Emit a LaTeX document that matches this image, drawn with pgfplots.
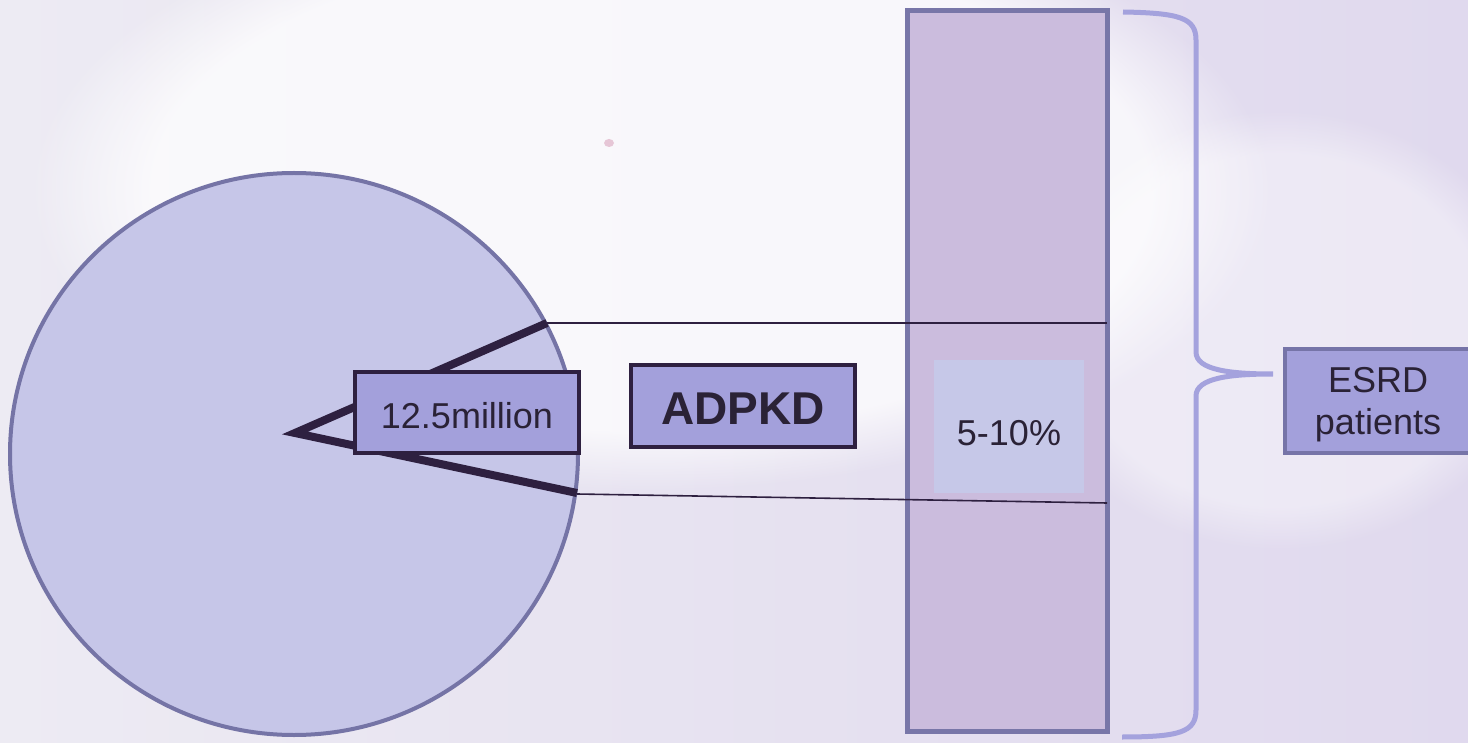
\documentclass[border=0pt]{standalone}
\usepackage{fontspec}
\setmainfont{Liberation Sans}
\usepackage{pgfplots}
\pgfplotsset{compat=1.18}
\usetikzlibrary{fadings}
\definecolor{bgl}{HTML}{EDEBF3}
\definecolor{bgr}{HTML}{E0D9EE}
\definecolor{circlefill}{HTML}{C6C6E8}
\definecolor{circleedge}{HTML}{7574A6}
\definecolor{dark}{HTML}{2E2040}
\definecolor{txt}{HTML}{2A2236}
\definecolor{boxfill}{HTML}{A3A0DB}
\definecolor{barfill}{HTML}{CBBCDD}
\definecolor{baredge}{HTML}{7876A8}
\definecolor{innerfill}{HTML}{C6C8E8}
\definecolor{bracecol}{HTML}{A4A2DD}
\definecolor{esrdedge}{HTML}{7674A8}
\definecolor{pinkdot}{HTML}{E6C6D6}
\begin{document}
\begin{tikzpicture}
\begin{axis}[width=734pt, height=371.5pt, scale only axis,
  xmin=0, xmax=1468, ymin=0, ymax=743, y dir=reverse,
  hide axis]
% background
\addplot[draw=none, fill=bgl] coordinates {(0,0)(1468,0)(1468,743)(0,743)} -- cycle;
\shade[left color=bgl, right color=bgr] (axis cs:0,0) rectangle (axis cs:1468,743);
\fill[white, opacity=0.75, path fading=circle with fuzzy edge 20 percent] (axis cs:650,190) ellipse [x radius=620, y radius=300];
\fill[white, opacity=0.4, path fading=circle with fuzzy edge 20 percent] (axis cs:1280,330) ellipse [x radius=260, y radius=220];
\fill[pinkdot] (axis cs:609,143) ellipse [x radius=5, y radius=4];
% circle
\draw[draw=circleedge, line width=2pt, fill=circlefill] (axis cs:294,454) ellipse [x radius=284, y radius=281];
% wedge
\addplot[draw=dark, line width=4pt, line join=miter] coordinates {(547,323)(295,433)(577,493)};
% bar
\addplot[draw=baredge, fill=barfill, line width=2.5pt] coordinates {(907,11)(1107,11)(1107,731)(907,731)} -- cycle;
\addplot[draw=none, fill=innerfill] coordinates {(934,360)(1084,360)(1084,493)(934,493)} -- cycle;
% connecting lines
\addplot[draw=dark, line width=0.8pt] coordinates {(547,323)(1107,323)};
\addplot[draw=dark, line width=0.8pt] coordinates {(577,494)(1107,503)};
% 12.5 million box
\addplot[draw=dark, fill=boxfill, line width=2pt] coordinates {(355,372)(579,372)(579,453)(355,453)} -- cycle;
\node[anchor=base, text=txt, font=\fontsize{18}{22}\selectfont, inner sep=0pt] at (axis cs:467,429) {12.5million};
% ADPKD box
\addplot[draw=dark, fill=boxfill, line width=2pt] coordinates {(631,365)(855,365)(855,447)(631,447)} -- cycle;
\node[anchor=base, text=txt, font=\fontsize{23}{27}\selectfont\bfseries, inner sep=0pt] at (axis cs:743,424) {ADPKD};
% 5-10%
\node[anchor=base, text=txt, font=\fontsize{18}{22}\selectfont, inner sep=0pt] at (axis cs:1009,445) {5-10\%};
% brace
\draw[bracecol, line width=2.5pt] (axis cs:1123,12) .. controls (axis cs:1180,13) and (axis cs:1196,18) .. (axis cs:1196,40)
  -- (axis cs:1196,352) .. controls (axis cs:1196,370) and (axis cs:1230,374) .. (axis cs:1273,374)
  .. controls (axis cs:1230,374) and (axis cs:1196,378) .. (axis cs:1196,396)
  -- (axis cs:1196,710) .. controls (axis cs:1196,732) and (axis cs:1180,737) .. (axis cs:1122,737);
% ESRD box
\addplot[draw=esrdedge, fill=boxfill, line width=2pt] coordinates {(1285,349)(1490,349)(1490,453)(1285,453)} -- cycle;
\node[anchor=base, text=txt, font=\fontsize{18}{21}\selectfont, align=center, inner sep=0pt] at (axis cs:1378,435) {ESRD\\patients};
\end{axis}
\end{tikzpicture}
\end{document}
